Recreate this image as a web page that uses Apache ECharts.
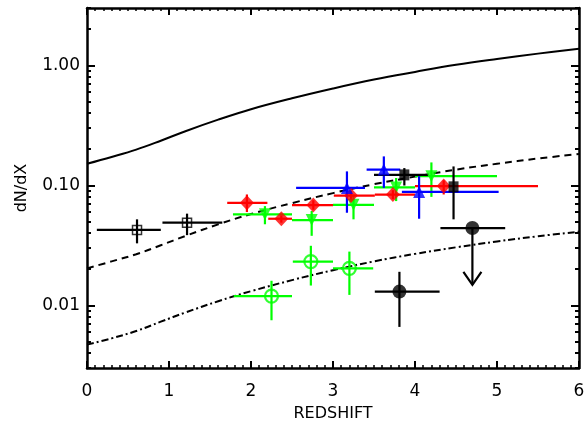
<!DOCTYPE html>
<html>
<head>
<meta charset="utf-8">
<script src="https://cdn.jsdelivr.net/npm/echarts@6/dist/echarts.min.js"></script>
<style>
html,body{margin:0;padding:0;background:#fff;}
#chart{width:584px;height:422px;}
</style>
</head>
<body>
<div id="chart"></div>
<script>
// ---- data ----
// curves: [redshift, dN/dX]
const solidCurve = [[0,0.151],[0.3,0.172],[0.6,0.198],[0.9,0.235],[1.2,0.282],[1.6,0.352],[2,0.43],[2.5,0.53],[3,0.64],[3.5,0.76],[4,0.88],[4.5,1.01],[5,1.13],[5.5,1.25],[6,1.37]];
const dashedCurve = [[0,0.0203],[0.3,0.0232],[0.6,0.0266],[0.9,0.0316],[1.2,0.0378],[1.6,0.0472],[2,0.0576],[2.5,0.071],[3,0.086],[3.5,0.102],[4,0.118],[4.5,0.135],[5,0.151],[5.5,0.167],[6,0.182]];
const dashDotCurve = [[0,0.0047],[0.3,0.0053],[0.6,0.0061],[0.9,0.0073],[1.2,0.0087],[1.6,0.0108],[2,0.0131],[2.5,0.0162],[3,0.0196],[3.5,0.0232],[4,0.0268],[4.5,0.0304],[5,0.0340],[5.5,0.0376],[6,0.041]];

// points: [x, y, xLow, xHigh, yLow, yHigh]
const blackOpenSquares = [[0.61,0.0424,0.12,0.90,0.0328,0.052],[1.22,0.0488,0.92,1.65,0.0384,0.058]];
const redDiamonds = [[1.95,0.0714,1.71,2.20,0.0598,0.0838],[2.37,0.0526,2.21,2.50,0.0488,0.0560],[2.76,0.0683,2.50,3.00,0.0625,0.0750],[3.22,0.0821,3.01,3.51,0.0750,0.0900],[3.73,0.0837,3.51,4.00,0.0765,0.0910],[4.35,0.0985,4.00,5.50,0.0838,0.110]];
const greenDownTriangles = [[2.17,0.0572,1.78,2.50,0.0473,0.067],[2.74,0.0513,2.50,3.00,0.0379,0.061],[3.25,0.0687,3.00,3.50,0.052,0.0837],[3.77,0.096,3.50,4.00,0.0738,0.115],[4.20,0.119,4.00,5.00,0.080,0.155]];
const blueUpTriangles = [[3.17,0.095,2.55,3.39,0.059,0.1305],[3.62,0.135,3.41,3.82,0.095,0.174],[4.05,0.088,3.84,5.02,0.0526,0.119]];
const blackFilledSquares = [[3.87,0.122,3.50,4.16,0.0995,0.139],[4.47,0.097,4.47,4.47,0.052,0.1435]];
const blackFilledCircles = [[3.81,0.0130,3.51,4.30,0.0066,0.019]];
const greenOpenCircles = [[2.25,0.0119,1.79,2.50,0.0075,0.016],[2.73,0.0231,2.51,3.00,0.0146,0.0313],[3.20,0.0203,3.00,3.49,0.0122,0.028]];
// upper limit: [x, y, xLow, xHigh, arrowTipY]
const blackUpperLimits = [[4.70,0.044,4.31,5.10,0.0148]];

// axis ticks
const xTickLabels = ['0','1','2','3','4','5','6'];
const yMajorTicks = [0.01,0.1,1];
const yMinorTicks = [0.003,0.004,0.005,0.006,0.007,0.008,0.009,0.02,0.03,0.04,0.05,0.06,0.07,0.08,0.09,0.2,0.3,0.4,0.5,0.6,0.7,0.8,0.9,2,3];

// ---- chart ----
const FONT = 'DejaVu Sans';
const chart = echarts.init(document.getElementById('chart'), null, {renderer:'canvas'});

function errorBars(color){
  return function(params, api){
    const x = api.value(0), y = api.value(1);
    const a = api.coord([api.value(2), y]), b = api.coord([api.value(3), y]);
    const c = api.coord([x, api.value(4)]), d = api.coord([x, api.value(5)]);
    const st = {stroke: color, lineWidth: 2.2};
    return {type:'group', children:[
      {type:'line', shape:{x1:a[0],y1:a[1],x2:b[0],y2:b[1]}, style:st},
      {type:'line', shape:{x1:c[0],y1:c[1],x2:d[0],y2:d[1]}, style:st}
    ]};
  };
}
function upperLimit(params, api){
  const x = api.value(0), y = api.value(1);
  const a = api.coord([api.value(2), y]), b = api.coord([api.value(3), y]);
  const p = api.coord([x, y]), t = api.coord([x, api.value(4)]);
  const st = {stroke:'#000', lineWidth:2.2, fill:null};
  return {type:'group', children:[
    {type:'line', shape:{x1:a[0],y1:a[1],x2:b[0],y2:b[1]}, style:st},
    {type:'line', shape:{x1:p[0],y1:p[1],x2:t[0],y2:t[1]}, style:st},
    {type:'polyline', shape:{points:[[t[0]-9,t[1]-13],[t[0],t[1]],[t[0]+9,t[1]-13]]}, style:st}
  ]};
}
function errSeries(data, color){
  return {type:'custom', data:data, renderItem:errorBars(color), encode:{x:0,y:1}, z:3, silent:true};
}
function pointSeries(data, opt){
  return Object.assign({type:'scatter', data:data.map(r=>[r[0],r[1]]), z:5, silent:true}, opt);
}
function curve(data, type){
  return {type:'line', data:data, showSymbol:false, smooth:0.4, z:2, silent:true,
    lineStyle:{color:'#000', width:2, type:type}};
}

const axisLine = {show:true, lineStyle:{color:'#000', width:2.5}};
const labelStyle = {color:'#000', fontSize:17, fontFamily:FONT};

const xBase = {type:'value', min:0, max:6, interval:1, axisLine:axisLine,
  axisTick:{show:true, inside:true, length:7, lineStyle:{color:'#000', width:2}},
  minorTick:{show:true, splitNumber:10, length:3, lineStyle:{color:'#000', width:1.5}},
  splitLine:{show:false}, minorSplitLine:{show:false}};
const yBase = {type:'log', logBase:10, min:0.003, max:3, axisLine:{show:false},
  splitLine:{show:false}, axisLabel:{show:false}};

const option = {
  backgroundColor:'#fff',
  animation:false,
  grid:{left:87, right:5, top:8, bottom:54, containLabel:false, outerBoundsMode:'none'},
  xAxis:[
    Object.assign({}, xBase, {position:'bottom',
      axisLabel:Object.assign({margin:15, formatter:(v)=>xTickLabels[Math.round(v)]}, labelStyle),
      name:'REDSHIFT', nameLocation:'middle', nameGap:38,
      nameTextStyle:{color:'#000', fontSize:16, fontFamily:FONT}}),
    Object.assign({}, xBase, {position:'top', axisLabel:{show:false}})
  ],
  yAxis:[
    Object.assign({}, yBase, {position:'left', axisLine:axisLine,
      axisTick:{show:true, inside:true, length:8, customValues:yMajorTicks, lineStyle:{color:'#000', width:2}},
      axisLabel:Object.assign({show:true, margin:7, customValues:yMajorTicks, formatter:(v)=>Number(v).toFixed(2)}, labelStyle),
      name:'dN/dX', nameLocation:'middle', nameGap:57,
      nameTextStyle:{color:'#000', fontSize:16, fontFamily:FONT}}),
    Object.assign({}, yBase, {position:'left',
      axisTick:{show:true, inside:true, length:4, customValues:yMinorTicks, lineStyle:{color:'#000', width:2}}}),
    Object.assign({}, yBase, {position:'right', axisLine:axisLine,
      axisTick:{show:true, inside:true, length:8, customValues:yMajorTicks, lineStyle:{color:'#000', width:2}}}),
    Object.assign({}, yBase, {position:'right',
      axisTick:{show:true, inside:true, length:4, customValues:yMinorTicks, lineStyle:{color:'#000', width:2}}})
  ],
  series:[
    curve(solidCurve, 'solid'),
    curve(dashedCurve, [7,5]),
    curve(dashDotCurve, [7,3,2,3]),
    errSeries(blackOpenSquares, '#000'),
    errSeries(greenDownTriangles, '#00ff00'),
    errSeries(redDiamonds, '#ff0000'),
    errSeries(greenOpenCircles, '#00ff00'),
    errSeries(blueUpTriangles, '#0000ff'),
    errSeries(blackFilledSquares, '#000'),
    errSeries(blackFilledCircles, '#000'),
    {type:'custom', data:blackUpperLimits, renderItem:upperLimit, encode:{x:0,y:1}, z:3, silent:true},
    pointSeries(blackOpenSquares, {symbol:'rect', symbolSize:9, itemStyle:{color:'transparent', borderColor:'#000', borderWidth:1.5}}),
    pointSeries(greenDownTriangles, {symbol:'triangle', symbolRotate:180, symbolSize:12, itemStyle:{color:'#00ff00'}}),
    pointSeries(redDiamonds, {symbol:'diamond', symbolSize:[14,15], itemStyle:{color:'#ff0000'}}),
    pointSeries(greenOpenCircles, {symbol:'circle', symbolSize:13, itemStyle:{color:'transparent', borderColor:'#00ff00', borderWidth:2.2}}),
    pointSeries(blueUpTriangles, {symbol:'triangle', symbolSize:12, itemStyle:{color:'#0000ff'}}),
    pointSeries(blackFilledSquares, {symbol:'rect', symbolSize:[10,11], itemStyle:{color:'#000'}}),
    pointSeries(blackFilledCircles, {symbol:'circle', symbolSize:14, itemStyle:{color:'#000'}}),
    pointSeries(blackUpperLimits, {symbol:'circle', symbolSize:14, itemStyle:{color:'#000'}})
  ]
};
chart.setOption(option);
</script>
</body>
</html>
